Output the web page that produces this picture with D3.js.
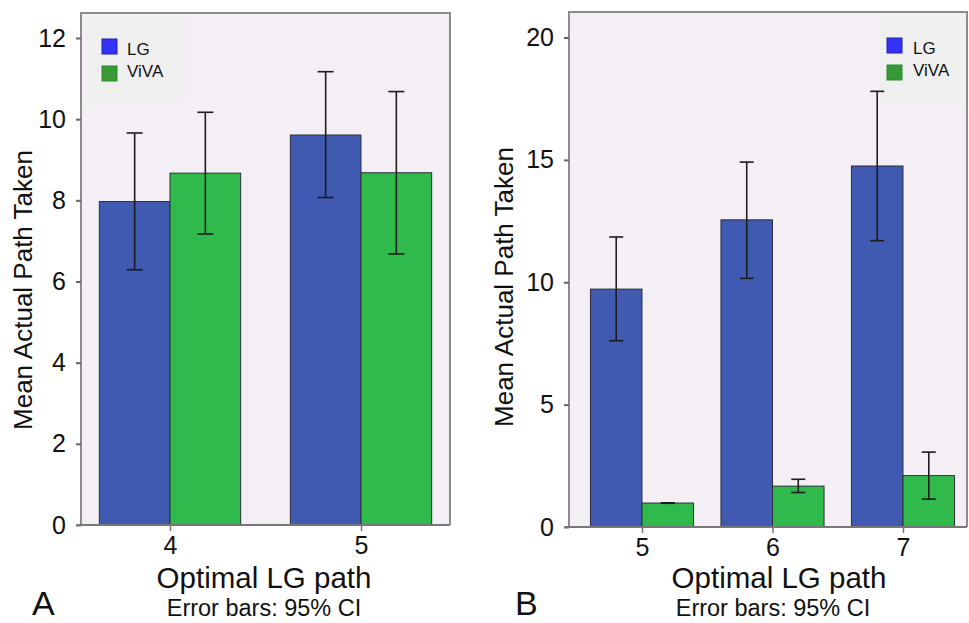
<!DOCTYPE html>
<html>
<head>
<meta charset="utf-8">
<script src="https://cdn.jsdelivr.net/npm/d3@7"></script>
<style>
  html, body { margin: 0; padding: 0; background: #ffffff; }
  svg { display: block; }
  text { font-family: "Liberation Sans", Arial, Helvetica, sans-serif; fill: #111; }
</style>
</head>
<body>
<svg id="chart" width="969" height="623"></svg>
<script>
// ---------------- Data ----------------
const seriesNames = ["LG", "ViVA"];

// Panel A
const categoriesA = [4, 5];
const lgMeanA = [7.97, 9.61];
const lgLowA  = [6.29, 8.07];
const lgHighA = [9.66, 11.17];
const vivaMeanA = [8.67, 8.68];
const vivaLowA  = [7.17, 6.68];
const vivaHighA = [10.17, 10.68];
const yTicksA = [0, 2, 4, 6, 8, 10, 12];

// Panel B
const categoriesB = [5, 6, 7];
const lgMeanB = [9.72, 12.55, 14.75];
const lgLowB  = [7.61, 10.16, 11.70];
const lgHighB = [11.85, 14.91, 17.80];
const vivaMeanB = [0.98, 1.67, 2.10];
const vivaLowB  = [0.97, 1.41, 1.14];
const vivaHighB = [0.99, 1.95, 3.06];
const yTicksB = [0, 5, 10, 15, 20];

const xTitle = "Optimal LG path";
const yTitle = "Mean Actual Path Taken";
const noteText = "Error bars: 95% CI";

// ---------------- Styles ----------------
const barColors = { LG: "#3f5ab0", ViVA: "#2fba4b" };
const swatchFill = { LG: "#3434f8", ViVA: "#379a37" };
const swatchStroke = { LG: "#2020a8", ViVA: "#2c8a2c" };
const plotBg = "#f4eff4";
const legendBg = "#efefef";
const frameColor = "#8c8c8c";

const svg = d3.select("#chart");

function drawPanel(cfg) {
  const g = svg.append("g");
  const { left, right, top, bottom } = cfg.frame;

  const x = d3.scaleLinear().domain(cfg.xDomain).range(cfg.xRange);
  const y = d3.scaleLinear().domain(cfg.yDomain).range(cfg.yRange);
  const step = (cfg.xRange[1] - cfg.xRange[0]) / (cfg.xDomain[1] - cfg.xDomain[0]);
  const bw = step * cfg.barFrac;

  // background
  g.append("rect")
    .attr("x", left).attr("y", top)
    .attr("width", right - left).attr("height", bottom - top)
    .attr("fill", plotBg);

  // legend box
  const lg = cfg.legend;
  g.append("rect")
    .attr("x", lg.x).attr("y", lg.y)
    .attr("width", lg.w).attr("height", lg.h)
    .attr("fill", legendBg);
  seriesNames.forEach((s, i) => {
    g.append("rect")
      .attr("x", lg.x + lg.swx).attr("y", lg.y + lg.swy + i * 27)
      .attr("width", 15).attr("height", 15)
      .attr("fill", swatchFill[s])
      .attr("stroke", swatchStroke[s]).attr("stroke-width", 1);
    g.append("text")
      .attr("x", lg.x + lg.tx).attr("y", lg.y + lg.swy + 16 + i * 22)
      .attr("font-size", 17)
      .text(s);
  });

  // bars
  const series = [
    { name: "LG", mean: cfg.lgMean, lo: cfg.lgLow, hi: cfg.lgHigh, off: -1 },
    { name: "ViVA", mean: cfg.vivaMean, lo: cfg.vivaLow, hi: cfg.vivaHigh, off: 0 }
  ];
  series.forEach(s => {
    g.selectAll(null).data(cfg.categories).enter().append("rect")
      .attr("x", (c) => x(c) + s.off * bw)
      .attr("y", (c, i) => y(s.mean[i]))
      .attr("width", bw)
      .attr("height", (c, i) => y(0) - y(s.mean[i]))
      .attr("fill", barColors[s.name])
      .attr("stroke", "#2e2e3a").attr("stroke-width", 1);
  });

  // error bars
  series.forEach(s => {
    cfg.categories.forEach((c, i) => {
      const cx = x(c) + s.off * bw + bw / 2;
      const eg = g.append("g").attr("stroke", "#1c1c1c").attr("stroke-width", 1.6);
      eg.append("line").attr("x1", cx).attr("x2", cx).attr("y1", y(s.hi[i])).attr("y2", y(s.lo[i]));
      eg.append("line").attr("x1", cx - cfg.cap).attr("x2", cx + cfg.cap).attr("y1", y(s.hi[i])).attr("y2", y(s.hi[i]));
      eg.append("line").attr("x1", cx - cfg.cap).attr("x2", cx + cfg.cap).attr("y1", y(s.lo[i])).attr("y2", y(s.lo[i]));
    });
  });

  // frame (top, right, left)
  g.append("path")
    .attr("d", `M${left},${bottom}V${top}H${right}V${bottom}`)
    .attr("fill", "none").attr("stroke", frameColor).attr("stroke-width", 2);

  // y axis
  const ya = d3.axisLeft(y).tickValues(cfg.yTicks).tickSize(5).tickPadding(cfg.yTickPad).tickFormat(d3.format("d"));
  const yg = g.append("g").attr("transform", `translate(${left},0)`).call(ya);
  yg.select(".domain").remove();
  yg.selectAll(".tick line").attr("stroke", "#666").attr("stroke-width", 2);
  yg.selectAll(".tick text").attr("font-size", 25).attr("fill", "#111")
    .attr("font-family", "Liberation Sans, Arial, sans-serif");

  // x axis
  const xa = d3.axisBottom(x).tickValues(cfg.categories).tickSize(6).tickPadding(cfg.xTickPad).tickFormat(d3.format("d"));
  const xg = g.append("g").attr("transform", `translate(0,${bottom})`).call(xa);
  xg.select(".domain").remove();
  xg.selectAll(".tick line").attr("stroke", "#777").attr("stroke-width", 1.5);
  xg.selectAll(".tick text").attr("font-size", 25).attr("fill", "#111")
    .attr("font-family", "Liberation Sans, Arial, sans-serif");
  g.append("line")
    .attr("x1", left - 4).attr("x2", right)
    .attr("y1", bottom).attr("y2", bottom)
    .attr("stroke", "#777").attr("stroke-width", 2);

  // titles
  g.append("text")
    .attr("transform", `translate(${cfg.yTitleX},${cfg.yTitleY}) rotate(-90)`)
    .attr("text-anchor", "middle").attr("font-size", 26)
    .text(yTitle);
  g.append("text")
    .attr("x", cfg.xTitleX).attr("y", 588)
    .attr("text-anchor", "middle").attr("font-size", 29.5)
    .text(xTitle);
  g.append("text")
    .attr("x", cfg.noteX).attr("y", 616)
    .attr("text-anchor", "middle").attr("font-size", 23.5)
    .text(noteText);
  g.append("text")
    .attr("x", cfg.letterX).attr("y", 615)
    .attr("font-size", 34)
    .text(cfg.letter);
}

drawPanel({
  letter: "A", letterX: 32,
  categories: categoriesA,
  lgMean: lgMeanA, lgLow: lgLowA, lgHigh: lgHighA,
  vivaMean: vivaMeanA, vivaLow: vivaLowA, vivaHigh: vivaHighA,
  yTicks: yTicksA,
  xDomain: [4, 5], xRange: [170, 361], barFrac: 0.37,
  yDomain: [0, 12], yRange: [525, 38],
  frame: { left: 81, right: 450, top: 13, bottom: 525 },
  legend: { x: 86, y: 18, w: 102, h: 82, swx: 16, swy: 21, tx: 41 },
  cap: 8, yTickPad: 10, xTickPad: 5,
  yTitleX: 32, yTitleY: 290, xTitleX: 264, noteX: 264
});

drawPanel({
  letter: "B", letterX: 515,
  categories: categoriesB,
  lgMean: lgMeanB, lgLow: lgLowB, lgHigh: lgHighB,
  vivaMean: vivaMeanB, vivaLow: vivaLowB, vivaHigh: vivaHighB,
  yTicks: yTicksB,
  xDomain: [5, 7], xRange: [642, 903], barFrac: 0.395,
  yDomain: [0, 20], yRange: [527, 37.5],
  frame: { left: 569, right: 967, top: 12, bottom: 527 },
  legend: { x: 880, y: 18, w: 87, h: 86, swx: 7, swy: 20, tx: 33 },
  cap: 7, yTickPad: 10, xTickPad: 5,
  yTitleX: 513, yTitleY: 287, xTitleX: 779, noteX: 773
});
</script>
</body>
</html>
